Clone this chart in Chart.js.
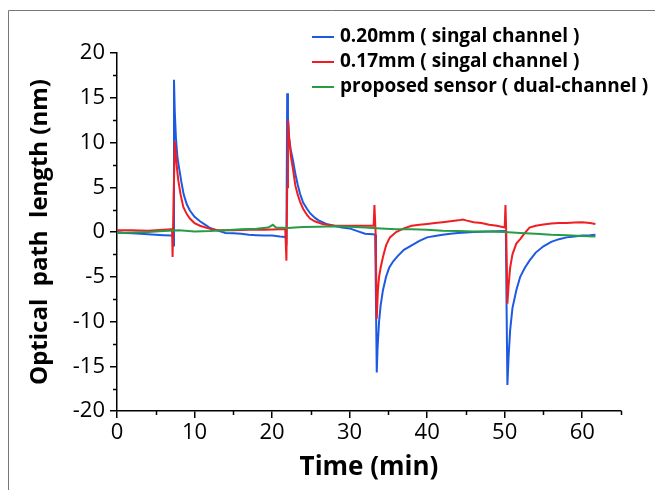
<!DOCTYPE html>
<html>
<head>
<meta charset="utf-8">
<script src="https://cdn.jsdelivr.net/npm/chart.js@4.4.0/dist/chart.umd.min.js"></script>
<style>
  body { margin: 0; background: #fff; }
  canvas { display: block; }
</style>
</head>
<body>
<canvas id="myChart" width="655" height="490"></canvas>
<script>
// values (time in min, optical path length in nm)
var timeBlue = [0, 1, 2, 3, 4, 5, 6, 7.0, 7.2, 7.28, 7.35, 7.45, 7.6, 7.8, 8.0, 8.3, 8.6, 9.0, 9.4, 10.0,
  10.7, 11.4, 12.0, 13.0, 14.0, 15.0, 16.0, 17.0, 18.0, 19.0, 20.0, 21.0, 21.7, 21.85, 21.95, 22.05, 22.2, 22.4, 22.7, 23.0,
  23.3, 23.6, 24.0, 24.5, 24.9, 25.5, 26.0, 27.0, 28.0, 29.0, 30.0, 31.0, 32.0, 33.0, 33.3, 33.4, 33.5, 33.6, 33.8, 34.0,
  34.3, 34.7, 35.1, 35.6, 36.2, 37.0, 38.0, 39.0, 40.0, 41.0, 42.0, 43.0, 44.0, 46.0, 48.0, 50.0, 50.15, 50.25, 50.35, 50.5,
  50.7, 51.0, 51.5, 52.0, 52.6, 53.2, 54.0, 55.0, 56.0, 57.0, 58.0, 59.0, 60.0, 61.0, 61.7];
var blueValues = [0.0, -0.1, -0.15, -0.2, -0.25, -0.3, -0.35, -0.4, -0.45, -1.5, 17.0, 13.5, 10.5, 8.3, 7.2, 5.6, 4.2, 3.1, 2.4, 1.7,
  1.2, 0.8, 0.45, 0.15, -0.1, -0.15, -0.2, -0.3, -0.35, -0.4, -0.4, -0.5, -0.55, -0.9, 15.5, 12.8, 10.5, 9.2, 8.0, 6.5,
  5.3, 4.3, 3.3, 2.6, 2.1, 1.6, 1.3, 0.9, 0.7, 0.5, 0.4, 0.1, -0.2, -0.25, -0.3, -8.0, -15.7, -13.0, -10.0, -8.2,
  -6.5, -5.0, -4.0, -3.3, -2.7, -2.0, -1.5, -1.0, -0.6, -0.45, -0.3, -0.2, -0.1, 0.0, 0.05, 0.1, 0.0, -9.0, -17.1, -14.0,
  -11.0, -8.5, -6.5, -5.0, -4.0, -3.2, -2.3, -1.6, -1.1, -0.8, -0.6, -0.5, -0.4, -0.35, -0.3];

var timeRed = [0, 2, 4, 6, 7.0, 7.1, 7.17, 7.3, 7.47, 7.6, 7.75, 7.9, 8.2, 8.55, 9.0, 9.4, 10.0, 10.7, 12.0, 13.0,
  15.0, 17.0, 19.0, 21.0, 21.7, 21.85, 21.95, 22.05, 22.2, 22.45, 22.7, 23.0, 23.3, 23.6, 24.0, 24.5, 24.9, 25.5, 26.5, 28.0,
  30.0, 32.0, 33.1, 33.2, 33.35, 33.5, 33.65, 33.8, 34.0, 34.3, 34.7, 35.2, 36.0, 37.0, 38.0, 39.0, 40.0, 41.0, 42.0, 43.0,
  44.0, 44.6, 45.0, 46.0, 47.0, 48.0, 49.0, 50.0, 50.1, 50.2, 50.35, 50.5, 50.7, 51.0, 51.5, 52.0, 52.5, 53.2, 54.0, 55.0,
  56.0, 57.0, 58.0, 59.0, 60.0, 61.0, 61.7];
var redValues = [0.2, 0.2, 0.15, 0.25, 0.3, 0.3, -2.8, 4.0, 10.1, 8.5, 7.0, 5.8, 4.2, 2.8, 2.0, 1.5, 1.0, 0.7, 0.35, 0.2,
  0.2, 0.25, 0.25, 0.3, 0.3, -3.2, 5.0, 12.5, 10.5, 8.3, 7.0, 5.2, 4.2, 3.4, 2.6, 1.9, 1.5, 1.2, 0.9, 0.7,
  0.7, 0.7, 0.7, 3.0, 0.0, -9.7, -6.5, -5.0, -4.0, -2.8, -1.5, -0.6, 0.0, 0.4, 0.7, 0.8, 0.9, 1.0, 1.1, 1.2,
  1.3, 1.4, 1.3, 1.1, 1.0, 0.8, 0.7, 0.5, 3.0, 0.0, -8.0, -6.0, -4.0, -2.5, -1.3, -0.8, -0.2, 0.5, 0.7, 0.85,
  0.95, 1.0, 1.0, 1.05, 1.1, 1.0, 0.9];

var timeGreen = [0, 2, 4, 6, 8, 10, 12, 14, 16, 18, 19.5, 20.1, 20.5, 22, 24, 26, 28, 30, 32, 34,
  36, 38, 40, 42, 44, 46, 48, 50, 52, 54, 56, 58, 60, 61.7];
var greenValues = [-0.1, -0.05, 0.0, 0.1, 0.2, 0.05, 0.1, 0.2, 0.3, 0.35, 0.5, 0.8, 0.5, 0.45, 0.55, 0.6, 0.65, 0.6, 0.5, 0.4,
  0.3, 0.3, 0.25, 0.15, 0.1, 0.05, 0.05, 0.0, -0.1, -0.2, -0.3, -0.35, -0.45, -0.5];

var seriesLabels = ['0.20mm ( singal channel )', '0.17mm ( singal channel )', 'proposed sensor ( dual-channel )'];

var chartColors = {
  blue: 'rgb(30, 90, 225)',
  red: 'rgb(240, 30, 35)',
  green: 'rgb(40, 155, 70)'
};

function toPoints(xs, ys) {
  return xs.map(function (x, i) { return { x: x, y: ys[i] }; });
}

var FONT = '"Open Sans", "Noto Sans", sans-serif';

// minor ticks, legend and the outer frame
var extras = {
  id: 'extras',
  beforeDraw: function (chart) {
    var c = chart.ctx;
    c.save();
    c.strokeStyle = '#777';
    c.lineWidth = 1;
    c.beginPath();
    c.moveTo(8.5, 490);
    c.lineTo(8.5, 10.5);
    c.lineTo(655, 10.5);
    c.stroke();
    c.restore();
  },
  afterDraw: function (chart) {
    var c = chart.ctx;
    var xs = chart.scales.x, ys = chart.scales.y;
    c.save();
    c.strokeStyle = '#000';
    c.lineWidth = 1.5;
    c.beginPath();
    xs.ticks.forEach(function (t) {
      if (t.value % 10 !== 0) {
        var px = Math.round(xs.getPixelForValue(t.value)) + 0.5;
        c.moveTo(px, ys.bottom);
        c.lineTo(px, ys.bottom + 4);
      }
    });
    ys.ticks.forEach(function (t) {
      if (t.value % 5 !== 0) {
        var py = Math.round(ys.getPixelForValue(t.value)) + 0.5;
        c.moveTo(xs.left, py);
        c.lineTo(xs.left - 4, py);
      }
    });
    c.stroke();

    // legend
    var rows = [37, 62, 87];
    c.font = 'bold 19px ' + FONT;
    c.textBaseline = 'middle';
    c.fillStyle = '#000';
    chart.data.datasets.forEach(function (ds, i) {
      c.strokeStyle = ds.borderColor;
      c.lineWidth = 2;
      c.beginPath();
      c.moveTo(312, rows[i]);
      c.lineTo(334, rows[i]);
      c.stroke();
      c.fillText(ds.label, 340, rows[i]);
    });
    c.restore();
  }
};

var myCanvas = document.getElementById('myChart').getContext('2d');

var myChart = new Chart(myCanvas, {
  type: 'line',
  data: {
    datasets: [
      { label: seriesLabels[0], data: toPoints(timeBlue, blueValues), borderColor: chartColors.blue, order: 2 },
      { label: seriesLabels[1], data: toPoints(timeRed, redValues), borderColor: chartColors.red, order: 1 },
      { label: seriesLabels[2], data: toPoints(timeGreen, greenValues), borderColor: chartColors.green, order: 0 }
    ]
  },
  options: {
    responsive: false,
    animation: false,
    layout: { padding: { left: 0, top: 53, right: 34, bottom: 0 } },
    elements: {
      point: { radius: 0 },
      line: { borderWidth: 2, tension: 0 }
    },
    plugins: {
      legend: { display: false },
      tooltip: { enabled: false }
    },
    scales: {
      x: {
        type: 'linear',
        min: 0,
        max: 65,
        afterFit: function (s) { s.height = 79; },
        ticks: {
          stepSize: 5,
          autoSkip: false,
          maxRotation: 0,
          padding: 2,
          color: '#000',
          font: { family: FONT, size: 22 },
          callback: function (v) { return v % 10 === 0 ? v : ''; }
        },
        grid: {
          drawOnChartArea: false,
          tickLength: 7,
          lineWidth: 1.5,
          color: function (ctx) { return ctx.tick && ctx.tick.value % 10 === 0 ? '#000' : 'rgba(0,0,0,0)'; }
        },
        border: { color: '#000', width: 1.5 },
        title: {
          display: true,
          text: 'Time (min)',
          color: '#000',
          font: { family: FONT, size: 26, weight: 'bold' },
          padding: { top: 0, bottom: 7 }
        }
      },
      y: {
        min: -20,
        max: 20,
        afterFit: function (s) { s.width = 117; },
        ticks: {
          stepSize: 2.5,
          autoSkip: false,
          padding: 5,
          color: '#000',
          font: { family: FONT, size: 22 },
          callback: function (v) { return v % 5 === 0 ? v : ''; }
        },
        grid: {
          drawOnChartArea: false,
          tickLength: 7,
          lineWidth: 1.5,
          color: function (ctx) { return ctx.tick && ctx.tick.value % 5 === 0 ? '#000' : 'rgba(0,0,0,0)'; }
        },
        border: { color: '#000', width: 1.5 },
        title: {
          display: true,
          text: 'Optical  path  length (nm)',
          color: '#000',
          font: { family: FONT, size: 24, weight: 'bold' },
          padding: { top: 26, bottom: 0 }
        }
      }
    }
  },
  plugins: [extras]
});
</script>
</body>
</html>
